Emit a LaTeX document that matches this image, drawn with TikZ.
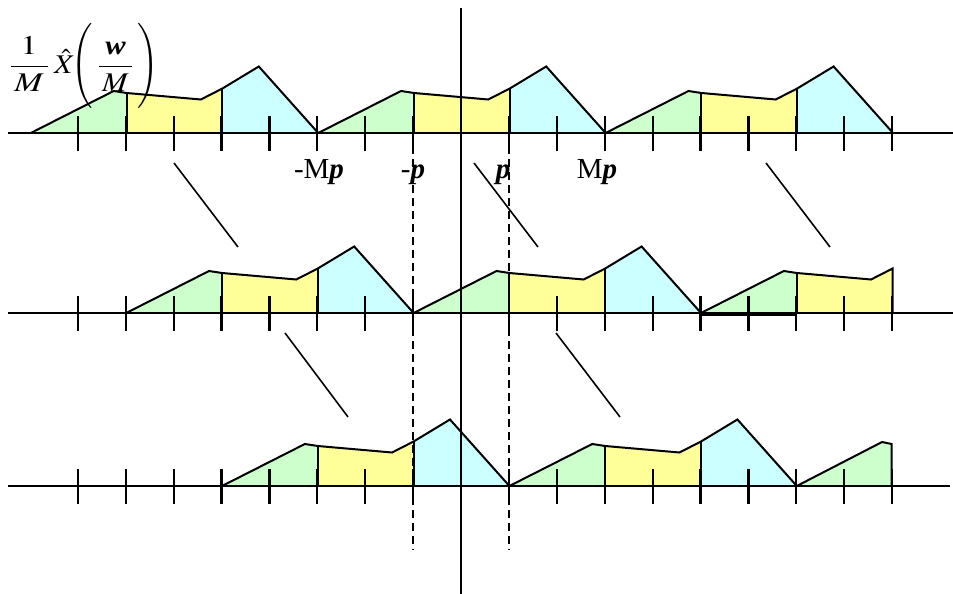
\documentclass[tikz,border=0pt]{standalone}
\usepackage{mathptmx}
\usepackage{graphicx}
\usepackage{fontspec}
\setmainfont{Liberation Serif}
\definecolor{gfill}{RGB}{204,255,204}
\definecolor{yfill}{RGB}{255,255,153}
\definecolor{cfill}{RGB}{204,255,255}
\def\tk{47.9}
\tikzset{
  outline/.style={black,line width=2pt,line join=miter},
  axisline/.style={black,line width=2pt},
  tickmark/.style={black,line width=2.2pt},
  vaxis/.style={black,line width=1.6pt},
  dashline/.style={black,line width=1.6pt,dash pattern=on 8pt off 5pt},
  slant/.style={black,line width=1.6pt},
  lbl/.style={inner sep=0pt,anchor=base,font=\fontsize{29}{32}\selectfont},
  pics/full/.style={code={
    \fill[gfill] (0,0) -- (1.73*\tk,-42) -- (2*\tk,-40) -- (2*\tk,0) -- cycle;
    \fill[yfill] (2*\tk,0) -- (2*\tk,-40) -- (3.55*\tk,-33.5) -- (4*\tk,-44.5) -- (4*\tk,0) -- cycle;
    \fill[cfill] (4*\tk,0) -- (4*\tk,-44.5) -- (4.76*\tk,-66.5) -- (6*\tk,0) -- cycle;
    \draw[outline] (0,0) -- (1.73*\tk,-42) -- (2*\tk,-40) -- (3.55*\tk,-33.5) -- (4*\tk,-44.5) -- (4.76*\tk,-66.5) -- (6*\tk,0);
    \draw[outline] (2*\tk,0) -- (2*\tk,-40);
    \draw[outline] (4*\tk,0) -- (4*\tk,-44.5);
  }},
  pics/greenyellow/.style={code={
    \fill[gfill] (0,0) -- (1.73*\tk,-42) -- (2*\tk,-40) -- (2*\tk,0) -- cycle;
    \fill[yfill] (2*\tk,0) -- (2*\tk,-40) -- (3.55*\tk,-33.5) -- (4*\tk,-44.5) -- (4*\tk,0) -- cycle;
    \draw[outline] (0,0) -- (1.73*\tk,-42) -- (2*\tk,-40) -- (3.55*\tk,-33.5) -- (4*\tk,-44.5) -- (4*\tk,0);
    \draw[outline] (2*\tk,0) -- (2*\tk,-40);
    \draw[black,line width=3pt] (0,1) -- (2*\tk,1);
  }},
  pics/greenonly/.style={code={
    \fill[gfill] (0,0) -- (1.78*\tk,-44) -- (1.98*\tk,-42) -- (1.98*\tk,0) -- cycle;
    \draw[outline] (0,0) -- (1.78*\tk,-44) -- (1.98*\tk,-42) -- (1.98*\tk,0);
  }},
}
\begin{document}
\begin{tikzpicture}[x=1pt,y=-1pt]
\useasboundingbox (0,0) rectangle (953,594);
% spectra
\pic at (30.8,133) {full};
\pic at (318.2,133) {full};
\pic at (605.6,133) {full};
\pic at (126.2,313) {full};
\pic at (413.6,313) {full};
\pic at (701,313) {greenyellow};
\pic at (222,486) {full};
\pic at (509.4,486) {full};
\pic at (796.8,486) {greenonly};
% horizontal axes
\draw[axisline] (8,133) -- (953,133);
\draw[axisline] (8,313) -- (953,313);
\draw[axisline] (8,486) -- (950,486);
% ticks
\foreach \yy in {133,313,486}{
  \foreach \j in {-8,...,9}{
    \draw[tickmark] ({461+\j*\tk},\yy-17) -- ({461+\j*\tk},\yy+18);
  }
}
% vertical axis
\draw[vaxis] (461,8) -- (461,594);
% dashed lines
\draw[dashline] (413.1,133) -- (413.1,550);
\draw[dashline] (508.9,133) -- (508.9,550);
% slanted lines
\coordinate (s1a) at (174,163); \coordinate (s1b) at (238,247);
\coordinate (s2a) at (474,163); \coordinate (s2b) at (538,247);
\coordinate (s3a) at (766,163); \coordinate (s3b) at (830,247);
\coordinate (s4a) at (285,333); \coordinate (s4b) at (348,417);
\coordinate (s5a) at (556,333); \coordinate (s5b) at (620,417);
\draw[slant] (s1a) -- (s1b);
\draw[slant] (s2a) -- (s2b);
\draw[slant] (s3a) -- (s3b);
\draw[slant] (s4a) -- (s4b);
\draw[slant] (s5a) -- (s5b);
% labels
\node[lbl] (lmp) at (319,178) {-M\textbf{\textit{p}}};
\node[lbl] (lmp1) at (413,178) {-\textbf{\textit{p}}};
\node[lbl] (lp1) at (503,178) {\textbf{\textit{p}}};
\node[lbl] (lmp2) at (597,178) {M\textbf{\textit{p}}};
% formula
\node[inner sep=0pt,anchor=west,font=\fontsize{27}{30}\selectfont] (ylab) at (9,66)
  {$\scalebox{1.25}[1]{$\displaystyle\frac{1}{\,M\,}$}\hspace{5pt}%
    \scalebox{1.1}[1]{$\hat{X}$}\hspace{-4pt}%
    \scalebox{1}[1.05]{$\Biggl($}\hspace{5pt}%
    \scalebox{1.13}[1]{$\displaystyle\frac{\mbox{\bfseries\itshape w}}{\,M\,}$}\hspace{4pt}%
    \scalebox{1}[1.05]{$\Biggr)$}$};
\end{tikzpicture}
\end{document}
